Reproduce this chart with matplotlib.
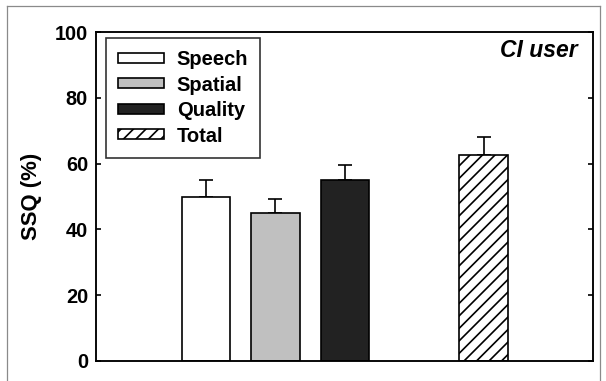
import matplotlib
matplotlib.use("Agg")
import matplotlib.pyplot as plt
import numpy as np
from matplotlib.lines import Line2D

# SSQ subscale scores for the CI group
categories = ["Speech", "Spatial", "Quality", "Total"]
means = [49.8, 44.9, 55.0, 62.7]
sems = [5.3, 4.4, 4.5, 5.4]
positions = [1, 2, 3, 5]
fills = ["white", "#c0c0c0", "#222222", "white"]
hatches = [None, None, None, "////"]
yticks = [0, 20, 40, 60, 80, 100]

plt.rcParams["font.family"] = ["Liberation Sans", "DejaVu Sans"]
plt.rcParams["font.weight"] = "bold"
plt.rcParams["hatch.linewidth"] = 0.8

W, H, DPI = 606, 381, 150
fig = plt.figure(figsize=(W / DPI, H / DPI), dpi=DPI)

# axes box in pixels: left 96, right 593, top 32, bottom 361
ax = fig.add_axes([96 / W, 1 - 361 / H, (593 - 96) / W, (361 - 32) / H])

for x, m, c, h, lab in zip(positions, means, fills, hatches, categories):
    ax.bar(x, m, width=0.7, color=c, edgecolor="black", linewidth=0.8,
           hatch=h, label=lab, zorder=2)

ax.errorbar(positions, means, yerr=[np.zeros(len(sems)), sems], fmt="none",
            ecolor="black", elinewidth=0.8, capsize=3.2, capthick=0.8,
            zorder=1)

ax.set_xlim(-0.585, 6.575)
ax.set_ylim(0, 100)
ax.set_yticks(yticks)
ax.set_xticks([])
ax.tick_params(axis="y", direction="in", length=2.4, width=0.8,
               labelsize=9.6, pad=3.8, right=True)
for lbl in ax.get_yticklabels():
    lbl.set_fontweight("bold")
for sp in ax.spines.values():
    sp.set_linewidth(0.9)

ax.set_ylabel("SSQ (%)", fontsize=10.6, fontweight="bold", labelpad=6)

ax.text(0.970, 0.925, "CI user", transform=ax.transAxes, ha="right",
        va="baseline", fontsize=11.0, fontweight="bold", fontstyle="italic")

leg = ax.legend(loc="upper left", bbox_to_anchor=(106 / W, 1 - 38 / H),
                bbox_transform=fig.transFigure, borderaxespad=0,
                fancybox=False, frameon=True, edgecolor="black",
                fontsize=9.7, handlelength=2.25, handleheight=0.38,
                handletextpad=0.65, labelspacing=0.32, borderpad=0.6)
leg.get_frame().set_linewidth(0.8)
for t in leg.get_texts():
    t.set_fontweight("bold")

# thin grey frame around the figure
frame_kw = dict(color="#8a8a8a", linewidth=0.6, transform=fig.transFigure)
fig.add_artist(Line2D([7 / W, 7 / W], [0, 1 - 6 / H], **frame_kw))
fig.add_artist(Line2D([7 / W, 600 / W], [1 - 6 / H, 1 - 6 / H], **frame_kw))
fig.add_artist(Line2D([600 / W, 600 / W], [0, 1 - 6 / H], **frame_kw))

fig.savefig("out.png", dpi=DPI)
